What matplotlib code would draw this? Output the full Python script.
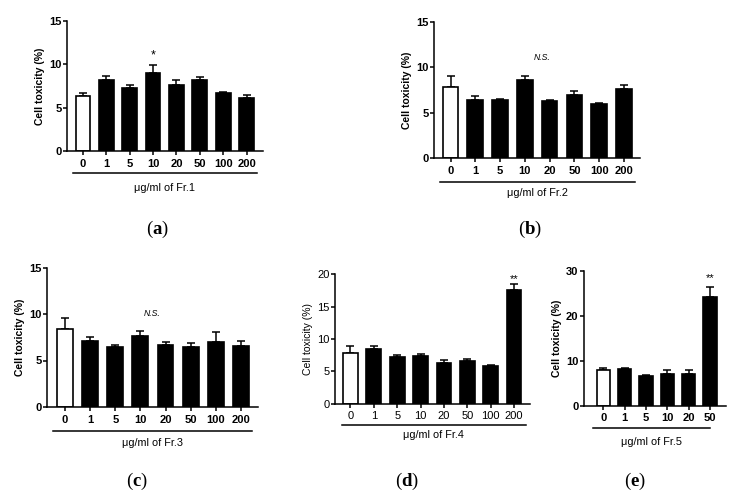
import matplotlib
matplotlib.use("Agg")
import matplotlib.pyplot as plt
import matplotlib.transforms as mtransforms
import numpy as np

plt.rcParams['font.family'] = ['Liberation Sans', 'DejaVu Sans']
plt.rcParams['mathtext.fontset'] = 'custom'
plt.rcParams['mathtext.rm'] = 'Liberation Serif'
plt.rcParams['mathtext.bf'] = 'Liberation Serif:bold'

# concentrations (ug/ml)
doses_8 = ["0", "1", "5", "10", "20", "50", "100", "200"]
doses_6 = ["0", "1", "5", "10", "20", "50"]

# mean cell toxicity (%) and upper SD for each fraction
fr1_mean = [6.35, 8.15, 7.25, 8.95, 7.6, 8.2, 6.65, 6.1]
fr1_err = [0.3, 0.45, 0.4, 1.0, 0.55, 0.35, 0.12, 0.35]
fr2_mean = [7.8, 6.45, 6.35, 8.55, 6.25, 6.9, 6.0, 7.6]
fr2_err = [1.2, 0.35, 0.18, 0.5, 0.15, 0.5, 0.12, 0.45]
fr3_mean = [8.4, 7.05, 6.5, 7.6, 6.65, 6.5, 7.0, 6.6]
fr3_err = [1.2, 0.45, 0.22, 0.6, 0.3, 0.35, 1.1, 0.45]
fr4_mean = [7.8, 8.45, 7.25, 7.35, 6.25, 6.6, 5.75, 17.5]
fr4_err = [1.15, 0.4, 0.3, 0.4, 0.5, 0.35, 0.18, 1.05]
fr5_mean = [7.85, 8.2, 6.7, 7.1, 7.0, 24.2]
fr5_err = [0.45, 0.17, 0.15, 0.9, 0.85, 2.2]

W, H = 737, 499
fig = plt.figure(figsize=(W / 100, H / 100), dpi=100)


def panel(px, mean, err, labels, ymax, yticks, xlim, uline, xlab, bold=True):
    # px = (left, right, top, bottom) in pixels
    l, r, t, b = px
    ax = fig.add_axes([l / W, (H - b) / H, (r - l) / W, (b - t) / H])
    x = np.arange(len(mean))
    colors = ["white"] + ["black"] * (len(mean) - 1)
    ax.bar(x, mean, width=0.63, color=colors, edgecolor="black", linewidth=1.2, zorder=2)
    ax.errorbar(x, mean, yerr=[np.zeros(len(err)), err], fmt="none", ecolor="black",
                elinewidth=1.1, capsize=2.8, capthick=1.1, zorder=1)
    ax.set_xlim(*xlim)
    ax.set_ylim(0, ymax)
    ax.set_yticks(yticks)
    ax.set_xticks(x)
    wt = "bold" if bold else "normal"
    ax.set_xticklabels(labels, fontsize=8, fontweight=wt)
    ax.set_yticklabels([str(v) for v in yticks], fontsize=8, fontweight=wt)
    ax.tick_params(axis="y", length=3, width=1.1, pad=1)
    ax.tick_params(axis="x", length=3, width=1.1, pad=2.5)
    for s in ["top", "right"]:
        ax.spines[s].set_visible(False)
    for s in ["left", "bottom"]:
        ax.spines[s].set_linewidth(1.1)
    ax.set_ylabel("Cell toxicity (%)", fontsize=7.5, fontweight=wt, labelpad=3)
    tr = mtransforms.blended_transform_factory(ax.transData, ax.transAxes)
    x0, x1, yu, yl = uline
    ax.plot([x0, x1], [yu, yu], color="black", lw=1.1, transform=tr, clip_on=False)
    ax.text((x0 + x1) / 2, yl, xlab, fontsize=7.8, ha="center", va="center", transform=tr)
    return ax


ax_a = panel((67, 263, 21, 151), fr1_mean, fr1_err, doses_8, 15, [0, 5, 10, 15],
             (-0.685, 7.706), (-0.44, 7.46, -0.167, -0.287), "μg/ml of Fr.1")
ax_a.text(3, 11.0, "*", fontsize=9, ha="center", va="center")

ax_b = panel((434, 640, 22, 158), fr2_mean, fr2_err, doses_8, 15, [0, 5, 10, 15],
             (-0.666, 7.645), (-0.42, 7.44, -0.174, -0.255), "μg/ml of Fr.2")
ax_b.text(3.68, 11.1, "N.S.", fontsize=6.2, style="italic", ha="center", va="center")

ax_c = panel((47, 258, 267.5, 407), fr3_mean, fr3_err, doses_8, 15, [0, 5, 10, 15],
             (-0.716, 7.68), (-0.48, 7.44, -0.172, -0.26), "μg/ml of Fr.3")
ax_c.text(3.45, 10.0, "N.S.", fontsize=6.2, style="italic", ha="center", va="center")

ax_d = panel((335, 530, 274.3, 403.7), fr4_mean, fr4_err, doses_8, 20, [0, 5, 10, 15, 20],
             (-0.66, 7.68), (-0.38, 7.52, -0.162, -0.244), "μg/ml of Fr.4", bold=False)
ax_d.text(7, 19.3, "**", fontsize=8, ha="center", va="center")

ax_e = panel((584, 726, 271, 405.7), fr5_mean, fr5_err, doses_6, 30, [0, 10, 20, 30],
             (-0.904, 5.75), (-0.48, 5.0, -0.168, -0.267), "μg/ml of Fr.5")
ax_e.text(5, 28.5, "**", fontsize=8, ha="center", va="center")

# panel captions
for letter, cx, cy in [("a", 157, 229), ("b", 530, 229), ("c", 137, 481),
                       ("d", 407, 481), ("e", 635, 481)]:
    fig.text(cx / W, 1 - cy / H, r"$\mathrm{(}\mathbf{%s}\mathrm{)}$" % letter,
             fontsize=13.5, ha="center", va="center")

fig.savefig("out.png", dpi=100)
